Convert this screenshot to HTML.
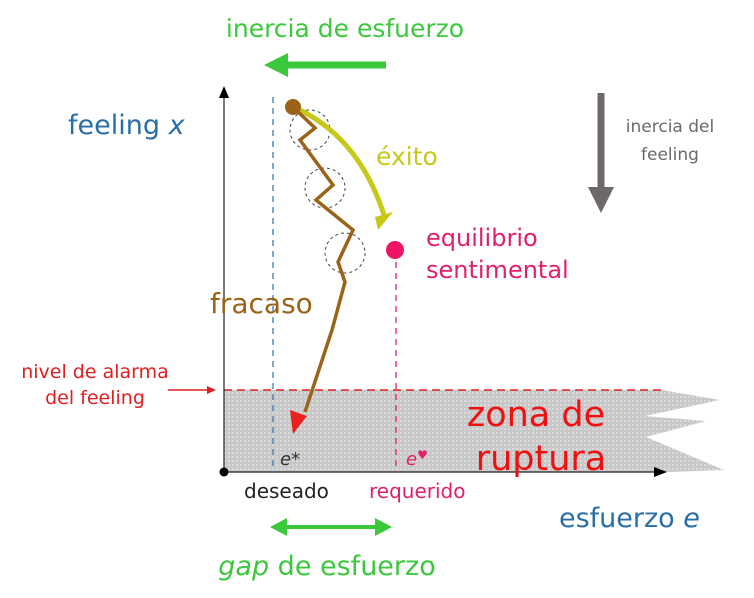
<!DOCTYPE html><html><head><style>body{margin:0;background:#fff}svg{display:block}text{font-family:"DejaVu Sans","Liberation Sans",sans-serif}</style></head><body>
<svg width="754" height="598" viewBox="0 0 754 598">
<defs><pattern id="p" width="4" height="4" patternUnits="userSpaceOnUse"><rect width="4" height="4" fill="#c8c8c8"/><rect width="2" height="2" fill="#dadada"/></pattern></defs>
<path d="M224 390 L662 390 L720 400 L645 416 L706 421 L646 437 L724 470 L668 472 L224 472 Z" fill="url(#p)"/>
<line x1="224" y1="390" x2="665" y2="390" stroke="#e02020" stroke-width="1.5" stroke-dasharray="8,5"/>
<line x1="224" y1="472" x2="224" y2="96" stroke="#222" stroke-width="1.2"/>
<polygon points="224,86 219,98 229,98" fill="#000"/>
<line x1="224" y1="472" x2="655" y2="472" stroke="#222" stroke-width="1.2"/>
<polygon points="667,472 654,467 654,477" fill="#000"/>
<circle cx="224" cy="472" r="4.5" fill="#000"/>
<line x1="273" y1="97" x2="273" y2="472" stroke="#3a78b0" stroke-width="1.3" stroke-dasharray="6,5"/>
<line x1="396" y1="262" x2="396" y2="472" stroke="#e0206a" stroke-width="1.3" stroke-dasharray="6,5"/>
<circle cx="310" cy="130" r="20" fill="none" stroke="#444" stroke-dasharray="3,3"/>
<circle cx="325" cy="188" r="20" fill="none" stroke="#444" stroke-dasharray="3,3"/>
<circle cx="345" cy="253" r="20" fill="none" stroke="#444" stroke-dasharray="3,3"/>
<path d="M300 110 Q360 140 384 215" fill="none" stroke="#c8c818" stroke-width="5"/>
<polygon points="378,230 393,212 375,217" fill="#c8c818"/>
<polyline points="293,107 315,128 300,140 333,185 316,200 353,230 338,262 345,282 332,330 305,412" fill="none" stroke="#9a6418" stroke-width="3.5"/>
<polygon points="293,434 290,410 307,416" fill="#e82020"/>
<circle cx="293" cy="107" r="8" fill="#9a6418"/>
<circle cx="395" cy="250" r="9" fill="#f01466"/>
<text x="345" y="37" font-size="25" fill="#3cc83c" text-anchor="middle">inercia de esfuerzo</text>
<line x1="386" y1="65" x2="285" y2="65" stroke="#3cc83c" stroke-width="7"/>
<polygon points="264,65 288,53 288,77" fill="#3cc83c"/>
<text x="68" y="134" font-size="27" fill="#2a6ea8">feeling <tspan font-style="italic">x</tspan></text>
<line x1="601" y1="93" x2="601" y2="190" stroke="#6e6868" stroke-width="7"/>
<polygon points="601,213 588,187 614,187" fill="#6e6868"/>
<text x="670" y="132" font-size="17" fill="#6e6868" text-anchor="middle">inercia del</text>
<text x="670" y="160" font-size="17" fill="#6e6868" text-anchor="middle">feeling</text>
<text x="376" y="165" font-size="25" fill="#c8c818">éxito</text>
<text x="426" y="246" font-size="24" fill="#e0206a">equilibrio</text>
<text x="426" y="278" font-size="24" fill="#e0206a">sentimental</text>
<text x="210" y="313" font-size="28" fill="#9a6418">fracaso</text>
<text x="95" y="378" font-size="19" fill="#e02020" text-anchor="middle">nivel de alarma</text>
<text x="95" y="404" font-size="19" fill="#e02020" text-anchor="middle">del feeling</text>
<line x1="168" y1="390" x2="208" y2="390" stroke="#e02020" stroke-width="1.5"/>
<polygon points="216,390 207,386 207,394" fill="#e02020"/>
<text x="536" y="426" font-size="35" fill="#f01010" text-anchor="middle">zona de</text>
<text x="541" y="470" font-size="35" fill="#f01010" text-anchor="middle">ruptura</text>
<text x="280" y="465" font-size="18" fill="#333" font-style="italic">e*</text>
<text x="406" y="465" font-size="18" fill="#e0206a" font-style="italic">e<tspan font-size="12" dy="-6">♥</tspan></text>
<text x="244" y="498" font-size="20" fill="#222">deseado</text>
<text x="369" y="498" font-size="20" fill="#e0206a">requerido</text>
<text x="559" y="527" font-size="27" fill="#2a6ea8">esfuerzo <tspan font-style="italic">e</tspan></text>
<line x1="285" y1="527" x2="377" y2="527" stroke="#3cc83c" stroke-width="4"/>
<polygon points="270,527 287,518 287,536" fill="#3cc83c"/>
<polygon points="392,527 375,518 375,536" fill="#3cc83c"/>
<text x="327" y="575" font-size="27" fill="#3cc83c" text-anchor="middle"><tspan font-style="italic">gap</tspan> de esfuerzo</text>
</svg></body></html>
